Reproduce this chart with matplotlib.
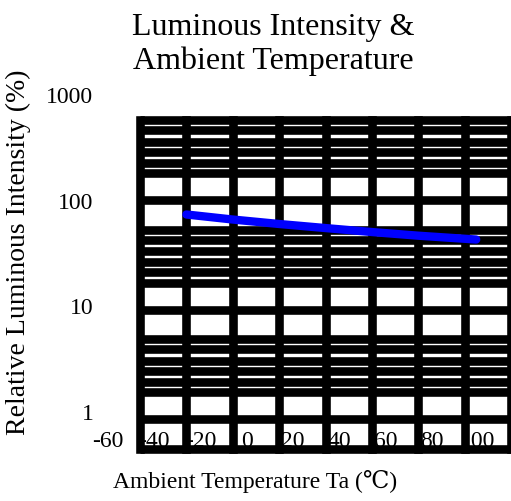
import numpy as np
import matplotlib.pyplot as plt

# curve
temp_c = [-40, -20, 0, 20, 40, 60, 80, 85]
rel_intensity = [74.5, 67.0, 61.0, 56.0, 51.5, 47.7, 44.7, 44.0]

x_ticks = [-60, -40, -20, 0, 20, 40, 60, 80, 100]
y_ticks = [1, 10, 100, 1000]
y_tick_labels = ['1', '10', '100', '1000']

# position of the horizontal grid lines inside each decade (log fraction)
grid_fracs = [0.0, 0.247, 0.345, 0.44, 0.538, 0.64, 0.735]

W, H = 511, 502
plt.rcParams['font.family'] = ['Liberation Serif', 'DejaVu Serif']
fig = plt.figure(figsize=(W / 100, H / 100), dpi=100)

# axes that only carries the tick labels (drawn behind the grid)
lab = fig.add_axes([108 / W, 1 - 412 / H, (478 - 108) / W, (412 - 95) / H], zorder=0)
lab.set_xlim(-60, 100)
lab.set_yscale('log')
lab.set_ylim(1, 1000)
lab.set_xticks(x_ticks)
lab.set_xticklabels([str(v) for v in x_ticks])
lab.set_yticks(y_ticks)
lab.set_yticklabels(y_tick_labels)
lab.minorticks_off()
lab.tick_params(length=0, labelsize=17, pad=0)
lab.tick_params(axis='y', pad=10.5)
lab.tick_params(axis='x', pad=13.5)
lab.patch.set_visible(False)
for s in lab.spines.values():
    s.set_visible(False)

# main axes with the heavy grid
ax = fig.add_axes([140 / W, 1 - 449.5 / H, (W - 140) / W, 328.5 / H], zorder=1)
ax.patch.set_visible(False)
ax.set_xlim(-60, 100)
ax.set_yscale('log')
ax.set_ylim(10 ** -0.265, 10 ** 2.735)
ax.set_xticks([])
ax.set_yticks([])
ax.minorticks_off()
for s in ax.spines.values():
    s.set_visible(False)

lw = 6.2
for xv in x_ticks:
    ax.axvline(xv, color='black', lw=lw, clip_on=False, solid_capstyle='projecting')
for d in range(-1, 3):
    for f in grid_fracs:
        v = 10 ** (d + f)
        if 10 ** -0.27 <= v <= 10 ** 2.74:
            ax.axhline(v, color='black', lw=lw, clip_on=False, solid_capstyle='butt')

ax.plot(temp_c, rel_intensity, color='#0000ff', lw=6, solid_capstyle='round', zorder=5)

fig.text(273 / W, 1 - 44 / H, 'Luminous Intensity &\nAmbient Temperature',
         ha='center', va='center', fontsize=23, linespacing=1.2)
fig.text(255 / W, 1 - 482 / H, 'Ambient Temperature Ta (\u2103)',
         ha='center', va='center', fontsize=17)
fig.text(18 / W, 1 - 252 / H, 'Relative Luminous Intensity (%)',
         ha='center', va='center', rotation=90, fontsize=20)

fig.savefig('out.png', dpi=100)
